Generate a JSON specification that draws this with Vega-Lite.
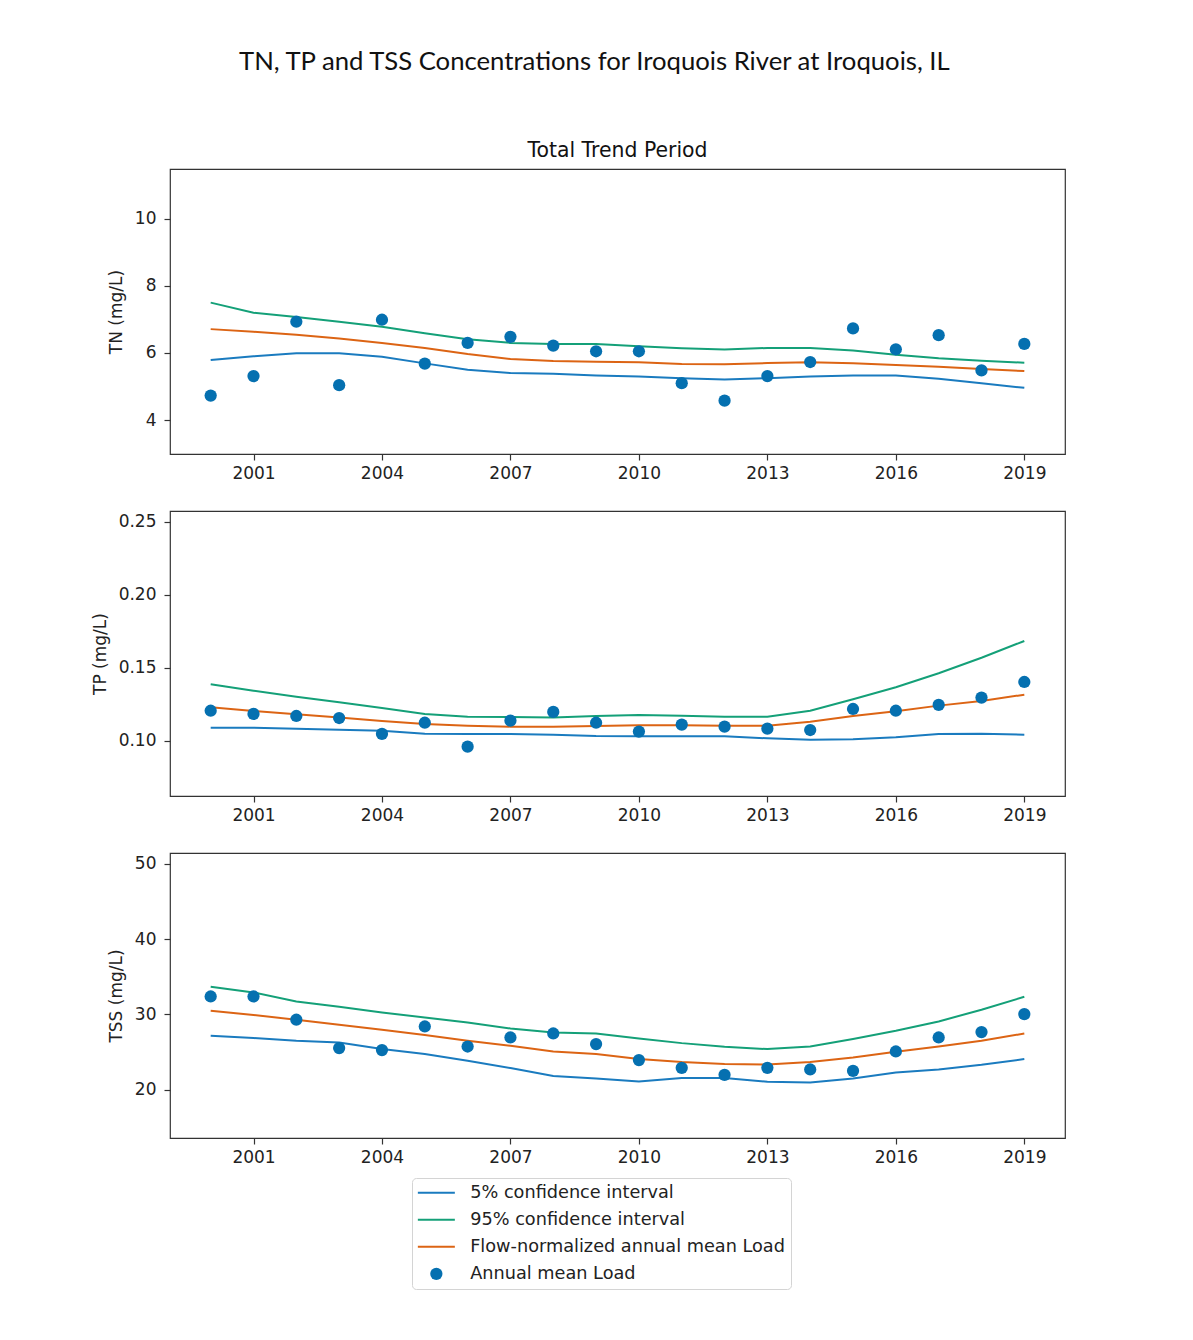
{
  "$schema": "https://vega.github.io/schema/vega-lite/v6.json",
  "autosize": {"type": "none"},
  "padding": {"left": 170, "top": 169, "right": 1023, "bottom": 1171},
  "background": "white",
  "title": {
    "text": "TN, TP and TSS Concentrations for Iroquois River at Iroquois, IL",
    "anchor": "start",
    "frame": "group",
    "dx": 69,
    "offset": 44,
    "baseline": "alphabetic",
    "font": "Lato",
    "fontSize": 25.7,
    "fontWeight": "normal",
    "color": "#111111"
  },
  "datasets": {
    "loads": [
      {"param": "TN", "year": 2000, "p5": 5.79, "p95": 7.50, "fn": 6.71, "obs": 4.73},
      {"param": "TN", "year": 2001, "p5": 5.90, "p95": 7.20, "fn": 6.63, "obs": 5.31},
      {"param": "TN", "year": 2002, "p5": 5.99, "p95": 7.07, "fn": 6.54, "obs": 6.93},
      {"param": "TN", "year": 2003, "p5": 5.99, "p95": 6.93, "fn": 6.43, "obs": 5.04},
      {"param": "TN", "year": 2004, "p5": 5.89, "p95": 6.78, "fn": 6.30, "obs": 6.99},
      {"param": "TN", "year": 2005, "p5": 5.69, "p95": 6.59, "fn": 6.15, "obs": 5.68},
      {"param": "TN", "year": 2006, "p5": 5.50, "p95": 6.41, "fn": 5.97, "obs": 6.30},
      {"param": "TN", "year": 2007, "p5": 5.40, "p95": 6.30, "fn": 5.82, "obs": 6.48},
      {"param": "TN", "year": 2008, "p5": 5.38, "p95": 6.27, "fn": 5.76, "obs": 6.22},
      {"param": "TN", "year": 2009, "p5": 5.33, "p95": 6.27, "fn": 5.74, "obs": 6.05},
      {"param": "TN", "year": 2010, "p5": 5.30, "p95": 6.20, "fn": 5.72, "obs": 6.05},
      {"param": "TN", "year": 2011, "p5": 5.25, "p95": 6.14, "fn": 5.67, "obs": 5.10},
      {"param": "TN", "year": 2012, "p5": 5.21, "p95": 6.10, "fn": 5.66, "obs": 4.58},
      {"param": "TN", "year": 2013, "p5": 5.25, "p95": 6.15, "fn": 5.70, "obs": 5.31},
      {"param": "TN", "year": 2014, "p5": 5.30, "p95": 6.15, "fn": 5.72, "obs": 5.73},
      {"param": "TN", "year": 2015, "p5": 5.33, "p95": 6.07, "fn": 5.69, "obs": 6.73},
      {"param": "TN", "year": 2016, "p5": 5.33, "p95": 5.95, "fn": 5.64, "obs": 6.11},
      {"param": "TN", "year": 2017, "p5": 5.23, "p95": 5.84, "fn": 5.59, "obs": 6.53},
      {"param": "TN", "year": 2018, "p5": 5.10, "p95": 5.77, "fn": 5.52, "obs": 5.48},
      {"param": "TN", "year": 2019, "p5": 4.96, "p95": 5.71, "fn": 5.46, "obs": 6.27},
      {"param": "TP", "year": 2000, "p5": 0.1089, "p95": 0.1386, "fn": 0.1229, "obs": 0.1205},
      {"param": "TP", "year": 2001, "p5": 0.1089, "p95": 0.1342, "fn": 0.1203, "obs": 0.1183},
      {"param": "TP", "year": 2002, "p5": 0.1082, "p95": 0.1301, "fn": 0.1181, "obs": 0.1169},
      {"param": "TP", "year": 2003, "p5": 0.1075, "p95": 0.1263, "fn": 0.1158, "obs": 0.1155},
      {"param": "TP", "year": 2004, "p5": 0.1068, "p95": 0.1224, "fn": 0.1135, "obs": 0.1046},
      {"param": "TP", "year": 2005, "p5": 0.1048, "p95": 0.1183, "fn": 0.1114, "obs": 0.1123},
      {"param": "TP", "year": 2006, "p5": 0.1046, "p95": 0.1164, "fn": 0.1103, "obs": 0.0959},
      {"param": "TP", "year": 2007, "p5": 0.1046, "p95": 0.1162, "fn": 0.1096, "obs": 0.1137},
      {"param": "TP", "year": 2008, "p5": 0.1041, "p95": 0.1158, "fn": 0.1096, "obs": 0.1197},
      {"param": "TP", "year": 2009, "p5": 0.1032, "p95": 0.1169, "fn": 0.1101, "obs": 0.1123},
      {"param": "TP", "year": 2010, "p5": 0.1030, "p95": 0.1176, "fn": 0.1105, "obs": 0.1062},
      {"param": "TP", "year": 2011, "p5": 0.1030, "p95": 0.1171, "fn": 0.1105, "obs": 0.1110},
      {"param": "TP", "year": 2012, "p5": 0.1030, "p95": 0.1164, "fn": 0.1103, "obs": 0.1096},
      {"param": "TP", "year": 2013, "p5": 0.1016, "p95": 0.1164, "fn": 0.1103, "obs": 0.1082},
      {"param": "TP", "year": 2014, "p5": 0.1007, "p95": 0.1205, "fn": 0.1130, "obs": 0.1073},
      {"param": "TP", "year": 2015, "p5": 0.1009, "p95": 0.1284, "fn": 0.1169, "obs": 0.1217},
      {"param": "TP", "year": 2016, "p5": 0.1023, "p95": 0.1366, "fn": 0.1201, "obs": 0.1205},
      {"param": "TP", "year": 2017, "p5": 0.1046, "p95": 0.1462, "fn": 0.1240, "obs": 0.1245},
      {"param": "TP", "year": 2018, "p5": 0.1048, "p95": 0.1568, "fn": 0.1272, "obs": 0.1295},
      {"param": "TP", "year": 2019, "p5": 0.1041, "p95": 0.1683, "fn": 0.1315, "obs": 0.1402},
      {"param": "TSS", "year": 2000, "p5": 27.17, "p95": 33.68, "fn": 30.49, "obs": 32.39},
      {"param": "TSS", "year": 2001, "p5": 26.86, "p95": 32.93, "fn": 29.92, "obs": 32.39},
      {"param": "TSS", "year": 2002, "p5": 26.50, "p95": 31.73, "fn": 29.30, "obs": 29.30},
      {"param": "TSS", "year": 2003, "p5": 26.28, "p95": 31.02, "fn": 28.63, "obs": 25.53},
      {"param": "TSS", "year": 2004, "p5": 25.40, "p95": 30.27, "fn": 27.97, "obs": 25.27},
      {"param": "TSS", "year": 2005, "p5": 24.73, "p95": 29.60, "fn": 27.26, "obs": 28.40},
      {"param": "TSS", "year": 2006, "p5": 23.84, "p95": 28.94, "fn": 26.50, "obs": 25.74},
      {"param": "TSS", "year": 2007, "p5": 22.87, "p95": 28.14, "fn": 25.84, "obs": 26.94},
      {"param": "TSS", "year": 2008, "p5": 21.81, "p95": 27.61, "fn": 25.08, "obs": 27.47},
      {"param": "TSS", "year": 2009, "p5": 21.49, "p95": 27.47, "fn": 24.73, "obs": 26.06},
      {"param": "TSS", "year": 2010, "p5": 21.09, "p95": 26.81, "fn": 24.07, "obs": 23.94},
      {"param": "TSS", "year": 2011, "p5": 21.54, "p95": 26.19, "fn": 23.67, "obs": 22.91},
      {"param": "TSS", "year": 2012, "p5": 21.54, "p95": 25.70, "fn": 23.40, "obs": 21.98},
      {"param": "TSS", "year": 2013, "p5": 21.05, "p95": 25.40, "fn": 23.35, "obs": 22.91},
      {"param": "TSS", "year": 2014, "p5": 20.96, "p95": 25.74, "fn": 23.67, "obs": 22.69},
      {"param": "TSS", "year": 2015, "p5": 21.49, "p95": 26.73, "fn": 24.28, "obs": 22.51},
      {"param": "TSS", "year": 2016, "p5": 22.29, "p95": 27.83, "fn": 25.04, "obs": 25.08},
      {"param": "TSS", "year": 2017, "p5": 22.69, "p95": 29.07, "fn": 25.74, "obs": 26.94},
      {"param": "TSS", "year": 2018, "p5": 23.31, "p95": 30.63, "fn": 26.50, "obs": 27.66},
      {"param": "TSS", "year": 2019, "p5": 24.07, "p95": 32.35, "fn": 27.47, "obs": 30.05}
    ]
  },
  "data": {"name": "loads"},
  "spacing": 57,
  "bounds": "flush",
  "vconcat": [
    {
      "width": 895,
      "height": 285,
      "title": {
        "text": "Total Trend Period",
        "frame": "group",
        "anchor": "middle",
        "baseline": "alphabetic",
        "offset": -8,
        "font": "DejaVu Sans",
        "fontSize": 20.4,
        "fontWeight": "normal",
        "color": "#111111"
      },
      "transform": [{"filter": "datum.param === 'TN'"}],
      "layer": [
        {
          "transform": [{"fold": ["p5", "p95", "fn"], "as": ["series", "val"]}],
          "mark": {"type": "line", "strokeWidth": 2},
          "encoding": {
            "x": {"field": "year", "type": "quantitative", "scale": {"domain": [1999.05, 2019.95], "nice": false, "zero": false}, "axis": {"values": [2001, 2004, 2007, 2010, 2013, 2016, 2019], "format": "d", "title": null}},
            "y": {"field": "val", "type": "quantitative", "scale": {"domain": [2.99, 11.48], "nice": false, "zero": false}, "axis": {"values": [4, 6, 8, 10], "format": "d", "title": "TN (mg/L)"}},
            "color": {
              "field": "series",
              "type": "nominal",
              "scale": {"domain": ["p5", "p95", "fn", "obs"], "range": ["#1a7bbf", "#14a078", "#dc6414", "#0570b0"]},
              "legend": {
                "orient": "none",
                "legendX": 242,
                "legendY": 1009,
                "title": null,
                "labelExpr": "datum.label === 'p5' ? '5% confidence interval' : datum.label === 'p95' ? '95% confidence interval' : datum.label === 'fn' ? 'Flow-normalized annual mean Load' : 'Annual mean Load'",
                "labelLimit": 0,
                "symbolSize": 1369,
                "symbolStrokeWidth": 2,
                "symbolOffset": 9.5,
                "labelOffset": 25,
                "encode": {
                  "symbols": {
                    "update": {
                      "shape": {"signal": "datum.value === 'obs' ? 'circle' : 'stroke'"},
                      "size": {"signal": "datum.value === 'obs' ? 150 : 1369"},
                      "fill": {"signal": "datum.value === 'obs' ? scale('color', datum.value) : 'transparent'"},
                      "stroke": {"signal": "scale('color', datum.value)"},
                      "strokeWidth": {"signal": "datum.value === 'obs' ? 0 : 2"},
                      "opacity": {"value": 1}
                    }
                  }
                }
              }
            }
          }
        },
        {
          "mark": {"type": "point", "filled": true, "size": 150, "opacity": 1},
          "encoding": {
            "x": {"field": "year", "type": "quantitative"},
            "y": {"field": "obs", "type": "quantitative", "axis": {"title": "TN (mg/L)"}},
            "color": {"datum": "obs", "type": "nominal"}
          }
        }
      ]
    },
    {
      "width": 895,
      "height": 285,
      "transform": [{"filter": "datum.param === 'TP'"}],
      "layer": [
        {
          "transform": [{"fold": ["p5", "p95", "fn"], "as": ["series", "val"]}],
          "mark": {"type": "line", "strokeWidth": 2},
          "encoding": {
            "x": {"field": "year", "type": "quantitative", "scale": {"domain": [1999.05, 2019.95], "nice": false, "zero": false}, "axis": {"values": [2001, 2004, 2007, 2010, 2013, 2016, 2019], "format": "d", "title": null}},
            "y": {"field": "val", "type": "quantitative", "scale": {"domain": [0.0621, 0.2573], "nice": false, "zero": false}, "axis": {"values": [0.10, 0.15, 0.20, 0.25], "format": ".2f", "title": "TP (mg/L)"}},
            "color": {"field": "series", "type": "nominal", "scale": {"domain": ["p5", "p95", "fn", "obs"], "range": ["#1a7bbf", "#14a078", "#dc6414", "#0570b0"]}}
          }
        },
        {
          "mark": {"type": "point", "filled": true, "size": 150, "opacity": 1},
          "encoding": {
            "x": {"field": "year", "type": "quantitative"},
            "y": {"field": "obs", "type": "quantitative", "axis": {"title": "TP (mg/L)"}},
            "color": {"datum": "obs", "type": "nominal"}
          }
        }
      ]
    },
    {
      "width": 895,
      "height": 285,
      "transform": [{"filter": "datum.param === 'TSS'"}],
      "layer": [
        {
          "transform": [{"fold": ["p5", "p95", "fn"], "as": ["series", "val"]}],
          "mark": {"type": "line", "strokeWidth": 2},
          "encoding": {
            "x": {"field": "year", "type": "quantitative", "scale": {"domain": [1999.05, 2019.95], "nice": false, "zero": false}, "axis": {"values": [2001, 2004, 2007, 2010, 2013, 2016, 2019], "format": "d", "title": null}},
            "y": {"field": "val", "type": "quantitative", "scale": {"domain": [13.58, 51.46], "nice": false, "zero": false}, "axis": {"values": [20, 30, 40, 50], "format": "d", "title": "TSS (mg/L)"}},
            "color": {"field": "series", "type": "nominal", "scale": {"domain": ["p5", "p95", "fn", "obs"], "range": ["#1a7bbf", "#14a078", "#dc6414", "#0570b0"]}}
          }
        },
        {
          "mark": {"type": "point", "filled": true, "size": 150, "opacity": 1},
          "encoding": {
            "x": {"field": "year", "type": "quantitative"},
            "y": {"field": "obs", "type": "quantitative", "axis": {"title": "TSS (mg/L)"}},
            "color": {"datum": "obs", "type": "nominal"}
          }
        }
      ]
    }
  ],
  "resolve": {"scale": {"y": "independent"}},
  "config": {
    "font": "DejaVu Sans",
    "view": {"stroke": "#333333", "strokeWidth": 1.2},
    "axis": {
      "domain": false,
      "grid": false,
      "ticks": true,
      "tickColor": "#333333",
      "tickSize": 6,
      "tickWidth": 1.2,
      "labelFont": "DejaVu Sans",
      "labelFontSize": 17,
      "labelColor": "#222222",
      "titleFont": "DejaVu Sans",
      "titleFontSize": 17,
      "titleFontWeight": "normal",
      "titleColor": "#222222"
    },
    "axisX": {"labelPadding": 5},
    "axisY": {"labelPadding": 8, "titlePadding": 9},
    "legend": {
      "labelFont": "DejaVu Sans",
      "labelFontSize": 17.7,
      "labelColor": "#222222",
      "rowPadding": 8,
      "padding": 6,
      "strokeColor": "#d4d4d4",
      "fillColor": "#ffffff",
      "cornerRadius": 4
    }
  }
}
